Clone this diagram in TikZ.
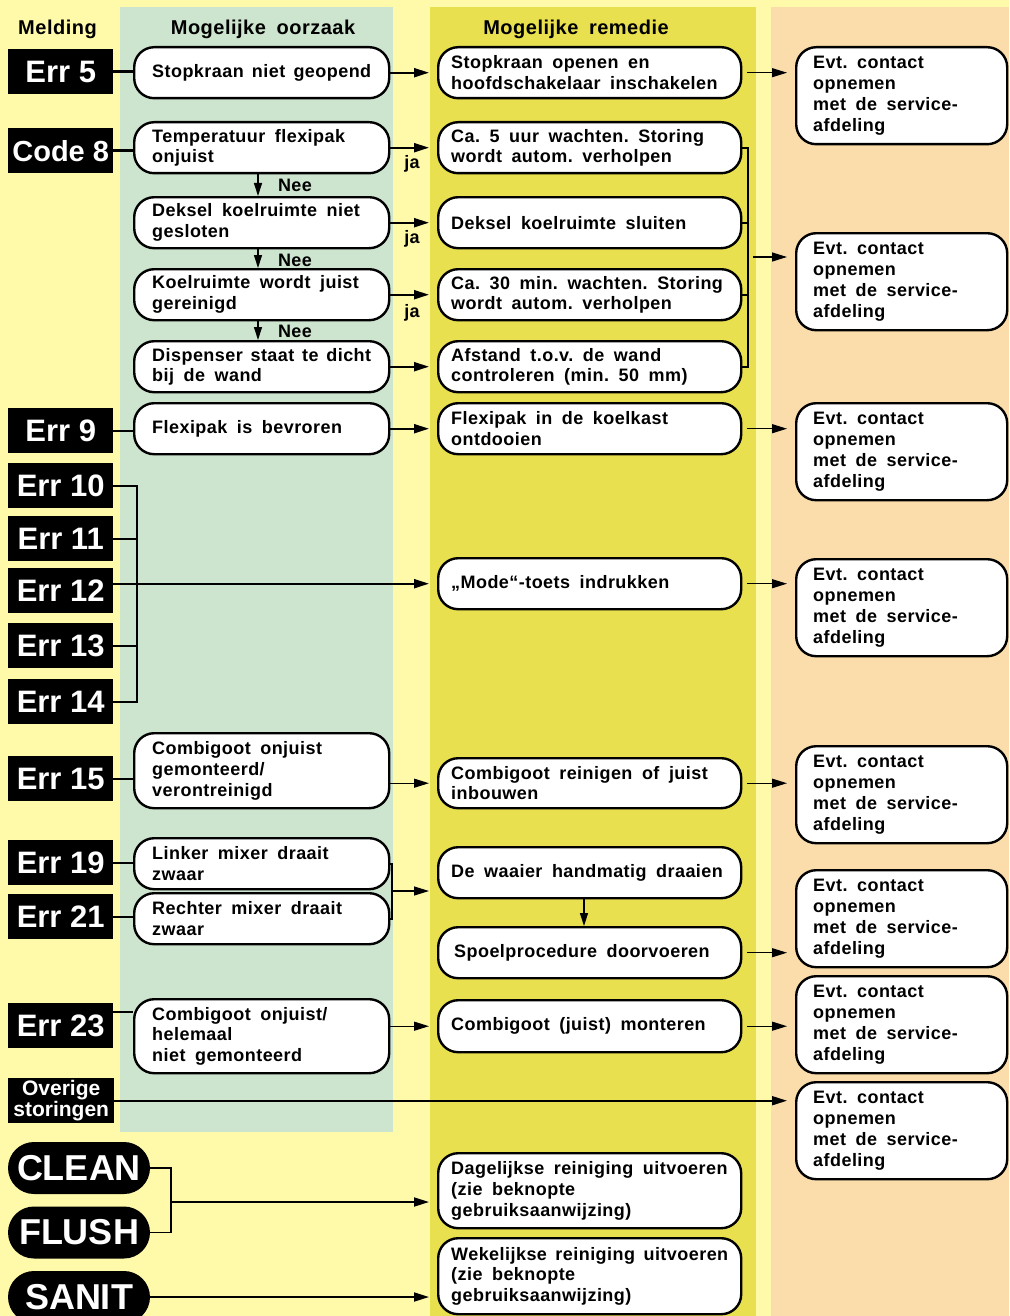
\documentclass[tikz,border=0pt]{standalone}
\usepackage{fontspec}
\setmainfont{Liberation Sans}[WordSpace={1.75}, LetterSpace=2.5]
\newfontfamily\labfont{Liberation Sans}
\usetikzlibrary{arrows.meta,shapes.misc}
\definecolor{bgyel}{RGB}{255,250,170}
\definecolor{colgreen}{RGB}{205,228,207}
\definecolor{colyel}{RGB}{232,224,78}
\definecolor{colorange}{RGB}{250,221,170}
\begin{document}
\begin{tikzpicture}[x=1pt,y=-1pt,
  box/.style={draw, line width=2.4pt, fill=white, rounded corners=20pt, anchor=north west, align=flush left, inner ysep=2pt, font=\bfseries\fontsize{18}{20.7}\selectfont},
  cause/.style={box, minimum width=255, inner xsep=18pt, text width=219pt},
  rem/.style={box, minimum width=303, inner xsep=13pt, text width=277pt},
  evt/.style={box, minimum width=211, minimum height=97, inner xsep=17pt, text width=177pt},
  lab/.style={fill=black, text=white, anchor=north west, minimum width=105, minimum height=45, inner sep=0pt, font=\labfont\bfseries\fontsize{31}{31}\selectfont},
  pill/.style={rounded rectangle, fill=black, text=white, minimum width=142, minimum height=52, inner sep=0pt, font=\labfont\bfseries\fontsize{36}{36}\selectfont},
  link/.style={line width=2.4pt},
  arr/.style={line width=2.2pt, -{Triangle[length=15pt,width=9pt]}, shorten >=8pt},
  tarr/.style={line width=1.2pt, -{Triangle[length=15pt,width=9pt]}, shorten >=8pt, shorten <=5pt},
  varr/.style={line width=1.3pt, -{Triangle[length=13pt,width=8pt]}},
  note/.style={font=\bfseries\fontsize{18}{20}\selectfont, inner sep=0pt, anchor=base},
  head/.style={font=\bfseries\fontsize{20}{24}\selectfont, inner sep=0pt, anchor=base},
]
\useasboundingbox (0,0) rectangle (1009,1316);
\clip (0,0) rectangle (1009,1316);
% backgrounds
\fill[bgyel] (0,0) rectangle (1009,1316);
\fill[colgreen] (120,7) rectangle (393,1132);
\fill[colyel] (430,7) rectangle (756,1316);
\fill[colorange] (771,7) rectangle (1009,1316);

% headers
\node[head] (h1) at (57.5,35) {Melding};
\node[head] (h2) at (263,35) {Mogelijke~oorzaak};
\node[head] (h3) at (576,35) {Mogelijke~remedie};

% labels
\node[lab] (e5) at (8,49) {Err 5};
\node[lab, font=\labfont\bfseries\fontsize{29}{29}\selectfont] (e8) at (8,128) {Code 8};
\node[lab] (e9) at (8,408) {Err 9};
\node[lab] (e10) at (8,463) {Err 10};
\node[lab] (e11) at (8,516) {Err 11};
\node[lab] (e12) at (8,568) {Err 12};
\node[lab] (e13) at (8,623) {Err 13};
\node[lab] (e14) at (8,679) {Err 14};
\node[lab] (e15) at (8,756) {Err 15};
\node[lab] (e19) at (8,840) {Err 19};
\node[lab] (e21) at (8,894) {Err 21};
\node[lab] (e23) at (8,1003) {Err 23};
\node[lab, minimum width=106, align=center, font=\labfont\bfseries\fontsize{21}{21}\selectfont] (ov) at (8,1078) {Overige\\storingen};
\node[pill] (clean) at (79,1168) {CLEAN};
\node[pill] (flush) at (79,1232.5) {FLUSH};
\node[pill] (sanit) at (79,1297) {SANIT};

% causes
\node[cause, minimum height=51] (c1) at (133,46) {Stopkraan~niet~geopend};
\node[cause, minimum height=51] (c2) at (133,121) {Temperatuur~flexipak\\onjuist};
\node[cause, minimum height=51] (c3) at (133,196) {Deksel~koelruimte~niet\\gesloten};
\node[cause, minimum height=51] (c4) at (133,268) {Koelruimte~wordt~juist\\gereinigd};
\node[cause, minimum height=51] (c5) at (133,340) {Dispenser~staat~te~dicht\\bij~de~wand};
\node[cause, minimum height=51] (c9) at (133,402) {Flexipak~is~bevroren};
\node[cause, minimum height=75] (c15) at (133,732) {Combigoot~onjuist\\gemonteerd/\\verontreinigd};
\node[cause, minimum height=51] (c19) at (133,837) {Linker~mixer~draait\\zwaar};
\node[cause, minimum height=51] (c21) at (133,892) {Rechter~mixer~draait\\zwaar};
\node[cause, minimum height=74] (c23) at (133,998) {Combigoot~onjuist/\\helemaal\\niet~gemonteerd};

% remedies
\node[rem, minimum height=51] (r1) at (437,46) {Stopkraan~openen~en\\hoofdschakelaar~inschakelen};
\node[rem, minimum height=51] (r2) at (437,121) {Ca.~5~uur~wachten.~Storing\\wordt~autom.~verholpen};
\node[rem, minimum height=51] (r3) at (437,196) {Deksel~koelruimte~sluiten};
\node[rem, minimum height=51] (r4) at (437,268) {Ca.~30~min.~wachten.~Storing\\wordt~autom.~verholpen};
\node[rem, minimum height=51] (r5) at (437,340) {Afstand~t.o.v.~de~wand\\controleren~(min.~50~mm)};
\node[rem, minimum height=51] (r9) at (437,402) {Flexipak~in~de~koelkast\\ontdooien};
\node[rem, minimum height=51] (mode) at (437,557) {„Mode“-toets~indrukken};
\node[rem, minimum height=50] (r15) at (437,757) {Combigoot~reinigen~of~juist\\inbouwen};
\node[rem, minimum height=51] (w1) at (437,846) {De~waaier~handmatig~draaien};
\node[rem, minimum height=51] (sp) at (437,926) {\hspace*{3pt}Spoelprocedure~doorvoeren};
\node[rem, minimum height=52] (cm) at (437,999) {Combigoot~(juist)~monteren};
\node[rem, minimum height=75] (dag) at (437,1152) {Dagelijkse~reiniging~uitvoeren\\(zie~beknopte\\gebruiksaanwijzing)};
\node[rem, minimum height=76] (wek) at (437,1237) {Wekelijkse~reiniging~uitvoeren\\(zie~beknopte\\gebruiksaanwijzing)};

% service boxes
\node[evt] (ev1) at (795,46) {Evt.~contact\\opnemen\\met~de~service-\\afdeling};
\node[evt] (ev2) at (795,232) {Evt.~contact\\opnemen\\met~de~service-\\afdeling};
\node[evt] (ev3) at (795,402) {Evt.~contact\\opnemen\\met~de~service-\\afdeling};
\node[evt] (ev4) at (795,558) {Evt.~contact\\opnemen\\met~de~service-\\afdeling};
\node[evt] (ev5) at (795,745) {Evt.~contact\\opnemen\\met~de~service-\\afdeling};
\node[evt] (ev6) at (795,869) {Evt.~contact\\opnemen\\met~de~service-\\afdeling};
\node[evt] (ev7) at (795,975) {Evt.~contact\\opnemen\\met~de~service-\\afdeling};
\node[evt] (ev8) at (795,1081) {Evt.~contact\\opnemen\\met~de~service-\\afdeling};

% helper coordinates
\coordinate (nx) at (258,0);
\coordinate (bx) at (137,0);
\coordinate (rbx) at (748,0);
\coordinate (rbm) at (748,257);
\coordinate (b19x) at (392,0);
\coordinate (b19m) at (392,891);
\coordinate (wx) at (584,0);
\coordinate (cfx) at (171,0);
\coordinate (cfm) at (171,1202);

% labels to causes
\draw[link] (e5.east) -- (e5.east -| c1.west);
\draw[link] (e8.east) -- (e8.east -| c2.west);
\draw[link] (e9.east) -- (e9.east -| c9.west);
\draw[link] (e10.east) -| (bx |- e14.east) -- (e14.east);
\draw[link] (e11.east) -- (e11.east -| bx);
\draw[link] (e13.east) -- (e13.east -| bx);
\draw[arr] (e12.east |- mode.west) -- (mode.west);
\draw[link] (e15.east) -- (e15.east -| c15.west);
\draw[link] (e19.east) -- (e19.east -| c19.west);
\draw[link] (e21.east) -- (e21.east -| c21.west);
\draw[link] ([yshift=14pt]e23.east) -- ([yshift=14pt]e23.east -| c23.west);

% decision chain
\draw[varr] (c2.south -| nx) -- (c3.north -| nx);
\draw[varr] (c3.south -| nx) -- (c4.north -| nx);
\draw[varr] (c4.south -| nx) -- (c5.north -| nx);
\node[note] (n1) at (295,191) {Nee};
\node[note] (n2) at (295,266) {Nee};
\node[note] (n3) at (295,337) {Nee};
\node[note] (j1) at (412,169) {ja};
\node[note] (j2) at (412,243) {ja};
\node[note] (j3) at (412,317) {ja};

% causes to remedies
\draw[arr] (c1.east) -- (c1.east -| r1.west);
\draw[arr] (c2.east) -- (c2.east -| r2.west);
\draw[arr] (c3.east) -- (c3.east -| r3.west);
\draw[arr] (c4.east) -- (c4.east -| r4.west);
\draw[arr] (c5.east) -- (c5.east -| r5.west);
\draw[arr] (c9.east) -- (c9.east -| r9.west);
\draw[tarr, shorten <=0pt] (c15.east |- r15.west) -- (r15.west);
\draw[link, line width=1.6pt] (c19.east) -| (b19x |- c21.east) -- (c21.east);
\draw[tarr, shorten <=0pt] (b19m) -- (b19m -| w1.west);
\draw[varr] (w1.south -| wx) -- (sp.north -| wx);
\draw[tarr, shorten <=0pt] (c23.east |- cm.west) -- (cm.west);
\draw[link, line width=1.8pt] (clean.east) -| (cfx |- flush.east) -- (flush.east);
\draw[arr, line width=1.8pt] (cfm) -- (cfm -| dag.west);
\draw[arr, line width=1.8pt] (sanit.east) -- (sanit.east -| wek.west);

% remedies to service
\draw[tarr] (r1.east) -- (r1.east -| ev1.west);
\draw[link, line width=1.8pt] (r2.east) -| (rbx |- r5.east) -- (r5.east);
\draw[link, line width=1.8pt] (r3.east) -- (r3.east -| rbx);
\draw[link, line width=1.8pt] (r4.east) -- (r4.east -| rbx);
\draw[tarr] (rbm) -- (rbm -| ev2.west);
\draw[tarr] (r9.east) -- (r9.east -| ev3.west);
\draw[tarr] (mode.east) -- (mode.east -| ev4.west);
\draw[tarr] (r15.east) -- (r15.east -| ev5.west);
\draw[tarr] (sp.east) -- (sp.east -| ev6.west);
\draw[tarr] (cm.east) -- (cm.east -| ev7.west);
\draw[arr, line width=1.8pt] (ov.east) -- (ov.east -| ev8.west);
\end{tikzpicture}
\end{document}
